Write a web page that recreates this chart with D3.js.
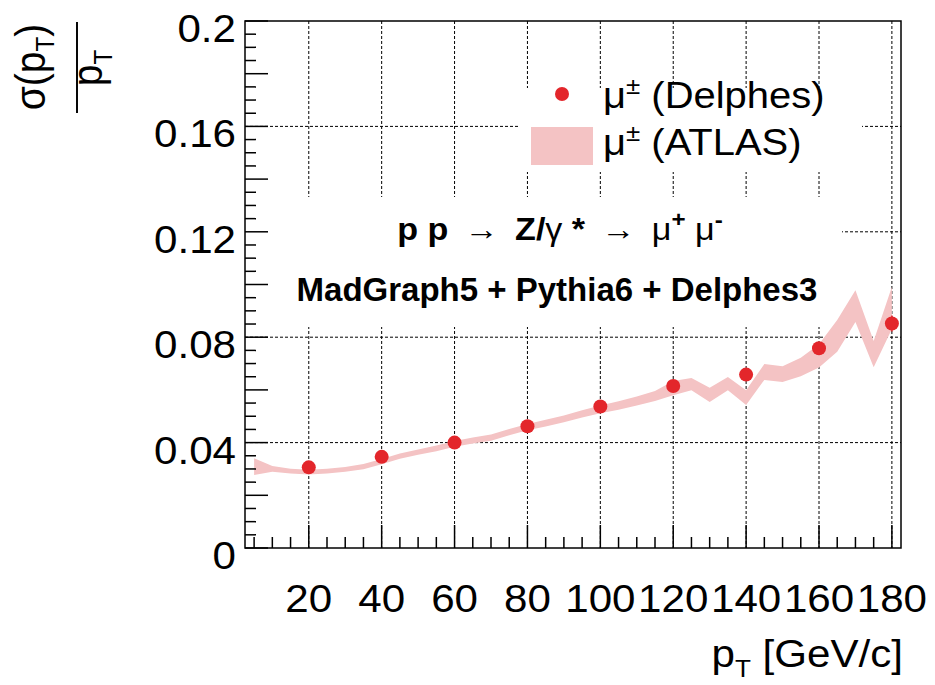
<!DOCTYPE html>
<html>
<head>
<meta charset="utf-8">
<script src="https://cdn.jsdelivr.net/npm/d3@7"></script>
<style>
  html, body { margin: 0; padding: 0; background: #fff; }
  svg { display: block; }
  text { font-family: "Liberation Sans", Arial, Helvetica, sans-serif; fill: #000; }
</style>
</head>
<body>
<svg id="chart" width="935" height="685"></svg>
<script>
// ---- data -------------------------------------------------------------
// Delphes muon resolution points
const ptPoints = [20, 40, 60, 80, 100, 120, 140, 160, 180];
const delphesRes = [0.0306, 0.0346, 0.0400, 0.0462, 0.0537, 0.0615, 0.0658, 0.0758, 0.0852];
const delphesErr = [0.0004, 0.0004, 0.0005, 0.0005, 0.0006, 0.0008, 0.0010, 0.0015, 0.0030];

// ATLAS resolution band (centre and half width)
const ptBand = [5, 10, 15, 20, 25, 30, 35, 40, 45, 50, 55, 60, 65, 70, 75, 80, 85, 90,
                95, 100, 105, 110, 115, 120, 125, 130, 135, 140, 145, 150, 155, 160, 165, 170, 175, 180];
const atlasRes = [0.0309, 0.0300, 0.0292, 0.0288, 0.0292, 0.0298, 0.0309, 0.0328, 0.0349, 0.0364,
                  0.0378, 0.0395, 0.0408, 0.0419, 0.0440, 0.0459, 0.0474, 0.0490, 0.0509, 0.0526,
                  0.0541, 0.0558, 0.0577, 0.0607, 0.0622, 0.0581, 0.0624, 0.0571, 0.0668, 0.0660,
                  0.0687, 0.0729, 0.0805, 0.0918, 0.0736, 0.0911];
const atlasErr = [0.0032, 0.0011, 0.0009, 0.0009, 0.0009, 0.0009, 0.0010, 0.0010, 0.0010, 0.0010,
                  0.0011, 0.0011, 0.0011, 0.0012, 0.0012, 0.0012, 0.0013, 0.0013, 0.0014, 0.0015,
                  0.0016, 0.0017, 0.0019, 0.0027, 0.0023, 0.0027, 0.0025, 0.0028, 0.0030, 0.0030,
                  0.0035, 0.0044, 0.0060, 0.0060, 0.0050, 0.0080];

// axis ticks
const xTickLabels = [20, 40, 60, 80, 100, 120, 140, 160, 180];
const yTickLabels = [0, 0.04, 0.08, 0.12, 0.16, 0.2];
const yTickText = ["0", "0.04", "0.08", "0.12", "0.16", "0.2"];

// ---- layout -----------------------------------------------------------
const svg = d3.select("#chart");
const plotL = 245, plotR = 901, plotT = 21, plotB = 548;
const SX = 1.08;          // horizontal stretch of the lettering
const FS = 39;            // base font size

const x = d3.scaleLinear().domain([2.5, 182.5]).range([plotL, plotR]);
const y = d3.scaleLinear().domain([0, 0.2]).range([plotB, plotT]);

const bandColor = "#f4c3c4";
const markColor = "#e3262b";

// stretched text helper
function label(parent, px, py, anchor, size, weight, sx) {
  const g = parent.append("g").attr("transform", `translate(${px},${py}) scale(${sx || SX},1)`);
  return g.append("text")
    .attr("text-anchor", anchor)
    .attr("font-size", size)
    .attr("font-weight", weight || "normal");
}

// ---- grid -------------------------------------------------------------
const grid = svg.append("g").attr("stroke", "#000").attr("stroke-width", 1)
  .attr("stroke-dasharray", "3,2");
grid.selectAll("line.gx").data(xTickLabels).join("line")
  .attr("x1", d => x(d)).attr("x2", d => x(d)).attr("y1", plotT).attr("y2", plotB);
grid.selectAll("line.gy").data(yTickLabels.filter(d => d > 0 && d < 0.2)).join("line")
  .attr("x1", plotL).attr("x2", plotR).attr("y1", d => y(d)).attr("y2", d => y(d));

// white boxes behind legend and process text
svg.append("rect").attr("x", 520).attr("y", 88).attr("width", 342).attr("height", 84).attr("fill", "#fff");
svg.append("rect").attr("x", plotL).attr("y", 197).attr("width", 842 - plotL).attr("height", 130).attr("fill", "#fff");

// ---- ATLAS band -------------------------------------------------------
const bandData = ptBand.map((p, i) => ({ p, v: atlasRes[i], e: atlasErr[i] }));
const area = d3.area()
  .x(d => x(d.p))
  .y0(d => y(d.v - d.e))
  .y1(d => y(d.v + d.e));
svg.append("path").datum(bandData).attr("d", area).attr("fill", bandColor);

// ---- Delphes points ---------------------------------------------------
const pts = ptPoints.map((p, i) => ({ p, v: delphesRes[i], e: delphesErr[i] }));
svg.append("g").selectAll("line").data(pts).join("line")
  .attr("x1", d => x(d.p)).attr("x2", d => x(d.p))
  .attr("y1", d => y(d.v - d.e)).attr("y2", d => y(d.v + d.e))
  .attr("stroke", markColor).attr("stroke-width", 1.5);
svg.append("g").selectAll("circle").data(pts).join("circle")
  .attr("cx", d => x(d.p)).attr("cy", d => y(d.v)).attr("r", 7)
  .attr("fill", markColor);

// ---- axes -------------------------------------------------------------
const axes = svg.append("g").attr("stroke", "#000").attr("stroke-width", 1.5);
// frame
svg.append("rect").attr("x", plotL).attr("y", plotT).attr("width", plotR - plotL).attr("height", plotB - plotT)
  .attr("fill", "none").attr("stroke", "#000").attr("stroke-width", 1.5);

// x ticks (every 5, long every 20)
const xTicks = d3.range(5, 181, 5);
axes.selectAll("line.xt").data(xTicks).join("line")
  .attr("x1", d => x(d)).attr("x2", d => x(d))
  .attr("y1", plotB).attr("y2", d => plotB - (d % 20 === 0 ? 23 : 11));
// y ticks (every 0.005, long every 0.02)
const yTicks = d3.range(0, 41).map(i => i * 0.005);
axes.selectAll("line.yt").data(yTicks).join("line")
  .attr("y1", d => y(d)).attr("y2", d => y(d))
  .attr("x1", plotL).attr("x2", (d, i) => plotL + (i % 4 === 0 ? 23 : 11));

// tick labels
xTickLabels.forEach(d => label(svg, x(d), 612, "middle", FS).text(d));
yTickLabels.forEach((d, i) => label(svg, 236, y(d) + 21, "end", FS).text(yTickText[i]));

// x title
{
  const t = label(svg, 903, 667, "end", FS);
  t.append("tspan").text("p");
  t.append("tspan").attr("font-size", FS * 0.62).attr("dy", 10).text("T");
  t.append("tspan").attr("dy", -10).text(" [GeV/c]");
}

// y title: sigma(pT) / pT as rotated fraction
{
  const g = svg.append("g").attr("transform", `translate(77,113) scale(${SX},1) rotate(-90)`);
  g.append("line").attr("x1", 0).attr("x2", 91).attr("y1", 0).attr("y2", 0)
    .attr("stroke", "#000").attr("stroke-width", 1.8);
  const num = g.append("text").attr("x", 46).attr("y", -30).attr("text-anchor", "middle").attr("font-size", FS);
  num.append("tspan").text("σ(p");
  num.append("tspan").attr("font-size", FS * 0.62).attr("dy", 9).text("T");
  num.append("tspan").attr("dy", -9).text(")");
  const den = g.append("text").attr("x", 45).attr("y", 23).attr("text-anchor", "middle").attr("font-size", FS);
  den.append("tspan").text("p");
  den.append("tspan").attr("font-size", FS * 0.62).attr("dy", 9).text("T");
}

// ---- legend -----------------------------------------------------------
svg.append("circle").attr("cx", 562).attr("cy", 94).attr("r", 7).attr("fill", markColor);
{
  const t = label(svg, 603, 108, "start", 37);
  t.append("tspan").text("μ");
  t.append("tspan").attr("font-size", 24).attr("dy", -14).text("±");
  t.append("tspan").attr("dy", 14).text(" (Delphes)");
}
svg.append("rect").attr("x", 531).attr("y", 127).attr("width", 62).attr("height", 38).attr("fill", bandColor);
{
  const t = label(svg, 603, 155, "start", 37);
  t.append("tspan").text("μ");
  t.append("tspan").attr("font-size", 24).attr("dy", -14).text("±");
  t.append("tspan").attr("dy", 14).text(" (ATLAS)");
}

// ---- process text -----------------------------------------------------
{
  const t = label(svg, 560, 240, "middle", 31, "bold", 1.1);
  t.append("tspan").text("p p ");
  t.append("tspan").attr("font-weight", "normal").text("\u2009→\u2009 ");
  t.append("tspan").text("Z/");
  t.append("tspan").attr("font-weight", "normal").text("γ");
  t.append("tspan").text(" * ");
  t.append("tspan").attr("font-weight", "normal").text("\u2009→\u2009 μ");
  t.append("tspan").attr("font-size", 22).attr("dy", -13).text("+");
  t.append("tspan").attr("font-weight", "normal").attr("dy", 13).text(" μ");
  t.append("tspan").attr("font-size", 22).attr("dy", -13).text("-");
}
label(svg, 557, 301, "middle", 33, "bold", 1.0).text("MadGraph5 + Pythia6 + Delphes3");
</script>
</body>
</html>
